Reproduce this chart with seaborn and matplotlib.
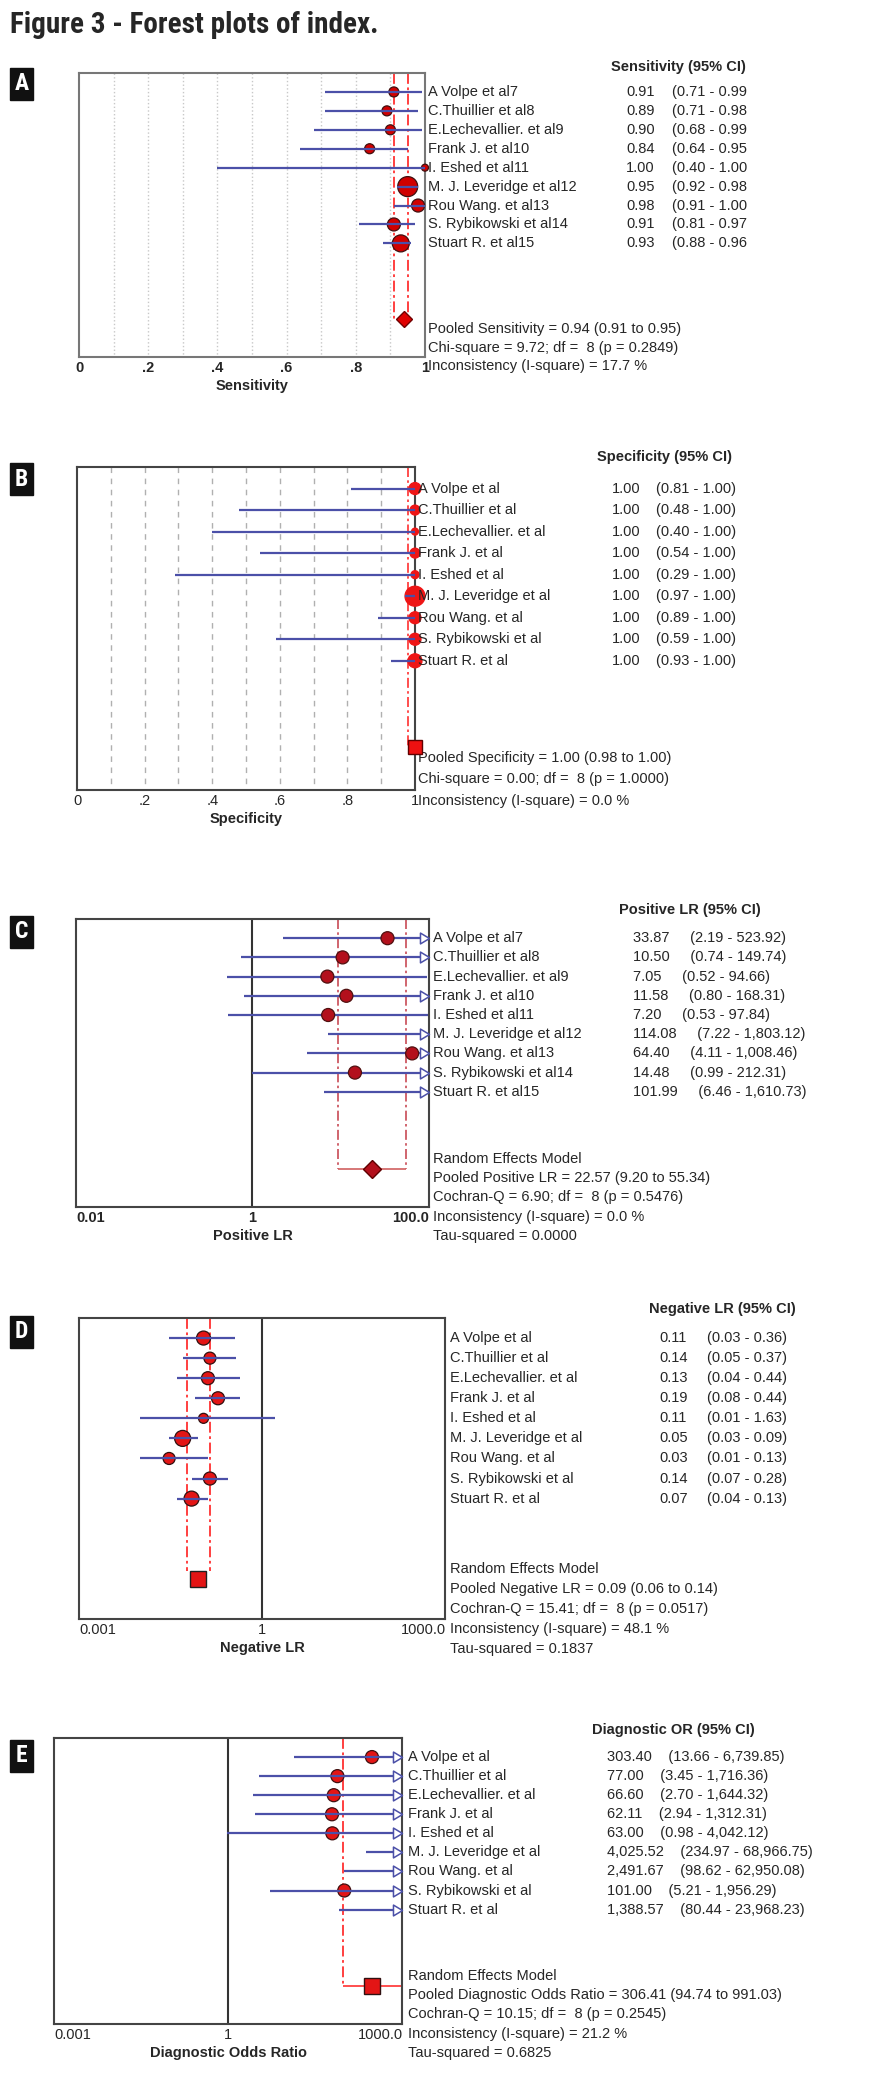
import matplotlib
matplotlib.use("Agg")
import matplotlib.pyplot as plt
import matplotlib.transforms as mtransforms
from matplotlib import font_manager
from matplotlib.patches import Rectangle
from matplotlib.path import Path
import numpy as np
import pandas as pd
import seaborn as sns

# study data
studies = ["A Volpe et al", "C.Thuillier et al", "E.Lechevallier. et al", "Frank J. et al",
           "I. Eshed et al", "M. J. Leveridge et al", "Rou Wang. et al", "S. Rybikowski et al",
           "Stuart R. et al"]
refs = ["7", "8", "9", "10", "11", "12", "13", "14", "15"]

sens = [0.91, 0.89, 0.90, 0.84, 1.00, 0.95, 0.98, 0.91, 0.93]
sens_lo = [0.71, 0.71, 0.68, 0.64, 0.40, 0.92, 0.91, 0.81, 0.88]
sens_hi = [0.99, 0.98, 0.99, 0.95, 1.00, 0.98, 1.00, 0.97, 0.96]
sens_weight = [10, 10, 10, 10, 7, 20, 13, 13, 17]
sens_pooled = (0.94, 0.91, 0.95)

spec = [1.00, 1.00, 1.00, 1.00, 1.00, 1.00, 1.00, 1.00, 1.00]
spec_lo = [0.81, 0.48, 0.40, 0.54, 0.29, 0.97, 0.89, 0.59, 0.93]
spec_hi = [1.00, 1.00, 1.00, 1.00, 1.00, 1.00, 1.00, 1.00, 1.00]
spec_weight = [12, 10, 7, 10, 8, 20, 12, 12, 14]
spec_pooled = (1.00, 0.98, 1.00)

plr = [33.87, 10.50, 7.05, 11.58, 7.20, 114.08, 64.40, 14.48, 101.99]
plr_lo = [2.19, 0.74, 0.52, 0.80, 0.53, 7.22, 4.11, 0.99, 6.46]
plr_hi = [523.92, 149.74, 94.66, 168.31, 97.84, 1803.12, 1008.46, 212.31, 1610.73]
plr_weight = [13, 13, 13, 13, 13, 13, 13, 13, 13]
plr_pooled = (22.57, 9.20, 55.34)

nlr = [0.11, 0.14, 0.13, 0.19, 0.11, 0.05, 0.03, 0.14, 0.07]
nlr_lo = [0.03, 0.05, 0.04, 0.08, 0.01, 0.03, 0.01, 0.07, 0.04]
nlr_hi = [0.36, 0.37, 0.44, 0.44, 1.63, 0.09, 0.13, 0.28, 0.13]
nlr_weight = [14, 12, 13, 13, 10, 16, 12, 13, 15]
nlr_pooled = (0.09, 0.06, 0.14)

dor = [303.40, 77.00, 66.60, 62.11, 63.00, 4025.52, 2491.67, 101.00, 1388.57]
dor_lo = [13.66, 3.45, 2.70, 2.94, 0.98, 234.97, 98.62, 5.21, 80.44]
dor_hi = [6739.85, 1716.36, 1644.32, 1312.31, 4042.12, 68966.75, 62950.08, 1956.29, 23968.23]
dor_weight = [13, 13, 13, 13, 13, 13, 13, 13, 13]
dor_pooled = (306.41, 94.74, 991.03)

summary_a = ["Pooled Sensitivity = 0.94 (0.91 to 0.95)",
             "Chi-square = 9.72; df =  8 (p = 0.2849)",
             "Inconsistency (I-square) = 17.7 %"]
summary_b = ["Pooled Specificity = 1.00 (0.98 to 1.00)",
             "Chi-square = 0.00; df =  8 (p = 1.0000)",
             "Inconsistency (I-square) = 0.0 %"]
summary_c = ["Random Effects Model",
             "Pooled Positive LR = 22.57 (9.20 to 55.34)",
             "Cochran-Q = 6.90; df =  8 (p = 0.5476)",
             "Inconsistency (I-square) = 0.0 %",
             "Tau-squared = 0.0000"]
summary_d = ["Random Effects Model",
             "Pooled Negative LR = 0.09 (0.06 to 0.14)",
             "Cochran-Q = 15.41; df =  8 (p = 0.0517)",
             "Inconsistency (I-square) = 48.1 %",
             "Tau-squared = 0.1837"]
summary_e = ["Random Effects Model",
             "Pooled Diagnostic Odds Ratio = 306.41 (94.74 to 991.03)",
             "Cochran-Q = 10.15; df =  8 (p = 0.2545)",
             "Inconsistency (I-square) = 21.2 %",
             "Tau-squared = 0.6825"]

sns.set_theme(style="white")
plt.rcParams["font.family"] = ["Liberation Sans", "DejaVu Sans"]

# a narrow bold face for the title and panel letters, if one is installed
installed = {f.name for f in font_manager.fontManager.ttflist}
narrow = None
for cand in ["Liberation Sans Narrow", "Roboto Condensed", "Open Sans Condensed"]:
    if cand in installed:
        narrow = cand
        break

W, H = 870, 2080
fig = plt.figure(figsize=(W / 100, H / 100), dpi=100)
fig.patch.set_facecolor("white")

BLUE = "#4b50a8"
rows = np.arange(len(studies))
POOLED_ROW = 12
FS = 10.5

# open arrow head with its tip at the anchor point
arrow = Path([(-1.0, 0.6), (0.0, 0.0), (-1.0, -0.6), (-1.0, 0.6)],
             [Path.MOVETO, Path.LINETO, Path.LINETO, Path.CLOSEPOLY])


def make_axes(l, t, r, b):
    ax = fig.add_axes([l / W, 1 - b / H, (r - l) / W, (b - t) / H])
    ax.set_ylim(14, -1)
    ax.set_yticks([])
    ax.tick_params(axis="x", length=0, pad=3, labelsize=FS)
    for s in ax.spines.values():
        s.set_color("#444444")
        s.set_linewidth(1.5)
    return ax


def panel_letter(letter, ycenter):
    fig.patches.append(Rectangle((10 / W, 1 - (ycenter + 16) / H), 23 / W, 32 / H,
                                 transform=fig.transFigure, color="#111111"))
    kw = dict(family=narrow, fontsize=17) if narrow else dict(fontsize=14, fontstretch="condensed")
    fig.text(21.5 / W, 1 - ycenter / H, letter, color="white",
             fontweight="bold", ha="center", va="center", **kw)


def txt(ax, xpx, y, s, **kw):
    tr = mtransforms.blended_transform_factory(fig.transFigure, ax.transData)
    ax.text(xpx / W, y, s, transform=tr, va="center", fontsize=FS, **kw)


def studies_draw(ax, est, lo, hi, weight, xmax, face, edge, lines_on_top=True):
    df = pd.DataFrame({"est": est, "lo": lo, "hi": hi, "row": rows, "w": weight})
    ax.hlines(df["row"], df["lo"], np.minimum(df["hi"], xmax), color=BLUE, lw=1.6,
              zorder=4 if lines_on_top else 2)
    vis = df[df["est"] <= xmax]
    sns.scatterplot(data=vis, x="est", y="row", s=(vis["w"] / 1.389) ** 2, color=face,
                    edgecolor=edge, linewidth=0.9, ax=ax, legend=False, zorder=3,
                    clip_on=False)
    out = df[df["hi"] > xmax]
    ax.plot(np.full(len(out), xmax), out["row"], linestyle="none", marker=arrow,
            markersize=13, markerfacecolor="white", markeredgecolor=BLUE,
            markeredgewidth=1.1, zorder=5, clip_on=False)
    ax.set_xlabel("")
    ax.set_ylabel("")


def log_ticks(ax, lo, hi, labels, right_shift=0):
    ax.set_xscale("log")
    ax.set_xlim(lo, hi)
    ax.set_xticks([lo, 1, hi])
    ax.set_xticklabels(labels)
    ax.minorticks_off()
    tl = ax.get_xticklabels()
    tl[0].set_ha("left")
    tl[-1].set_ha("right")
    tl[-1].set_transform(tl[-1].get_transform() +
                         mtransforms.ScaledTranslation(right_shift / 100, 0, fig.dpi_scale_trans))
    ax.axvline(1, color="#333333", lw=1.5, zorder=1)


# ---------------- A: sensitivity
ax = make_axes(79, 73, 425, 357)
ax.set_xlim(0, 1)
ax.set_xticks([0, .2, .4, .6, .8, 1])
ax.set_xticklabels(["0", ".2", ".4", ".6", ".8", "1"], fontweight="bold")
for s in ax.spines.values():
    s.set_color("#777777")
ax.vlines(np.arange(1, 10) / 10, -1, 14, color="#c8c8c8", lw=1, linestyles=":", zorder=0)
ax.vlines(sens_pooled[1:], -1, POOLED_ROW, color="#ff3030", lw=1.3,
          linestyles=[(0, (6, 2, 1.5, 2))], zorder=2)
studies_draw(ax, sens, sens_lo, sens_hi, sens_weight, 1.0, "#d00000", "#401010")
ax.plot([sens_pooled[0]], [POOLED_ROW], marker="D", ms=8, color="#e00000", mec="#700000", zorder=5)
ax.set_xlabel("Sensitivity", fontweight="bold", fontsize=FS, labelpad=3)
panel_letter("A", 84)
txt(ax, 678, -1.3, "Sensitivity (95% CI)", ha="center", fontweight="bold")
for i in rows:
    txt(ax, 428, i, studies[i] + refs[i])
    txt(ax, 655, i, f"{sens[i]:.2f}", ha="right")
    txt(ax, 672, i, f"({sens_lo[i]:.2f} - {sens_hi[i]:.2f}")
for k, line in enumerate(summary_a):
    txt(ax, 428, 12.5 + k, line)

# ---------------- B: specificity
ax = make_axes(77, 467, 415, 790)
ax.set_xlim(0, 1)
ax.set_xticks([0, .2, .4, .6, .8, 1])
ax.set_xticklabels(["0", ".2", ".4", ".6", ".8", "1"])
ax.vlines(np.arange(1, 10) / 10, -1, 14, color="#b0b0b0", lw=1,
          linestyles=[(0, (4, 4))], zorder=0)
ax.vlines([spec_pooled[1]], -1, POOLED_ROW, color="#ff3030", lw=1.2,
          linestyles=[(0, (6, 2, 1.5, 2))], zorder=2)
studies_draw(ax, spec, spec_lo, spec_hi, spec_weight, 1.0, "#ee1515", "#ee1515")
ax.plot([spec_pooled[0]], [POOLED_ROW], marker="s", ms=10, color="#ee1111", mec="#600000",
        zorder=5, clip_on=False)
ax.set_xlabel("Specificity", fontweight="bold", fontsize=FS, labelpad=3)
panel_letter("B", 479)
txt(ax, 665, -1.45, "Specificity (95% CI)", ha="center", fontweight="bold")
for i in rows:
    txt(ax, 418, i, studies[i])
    txt(ax, 641, i, f"{spec[i]:.2f}", ha="right")
    txt(ax, 656, i, f"({spec_lo[i]:.2f} - {spec_hi[i]:.2f})")
for k, line in enumerate(summary_b):
    txt(ax, 418, 12.5 + k, line)

# ---------------- C: positive LR
ax = make_axes(76, 919, 429, 1207)
log_ticks(ax, 0.01, 100, ["0.01", "1", "100.0"], right_shift=0)
for t in ax.get_xticklabels():
    t.set_fontweight("bold")
ax.vlines(plr_pooled[1:], -1, POOLED_ROW, color="#c84a55", lw=1.2,
          linestyles=[(0, (6, 2, 1.5, 2))], zorder=2)
ax.hlines(POOLED_ROW, plr_pooled[1], plr_pooled[2], color="#d06060", lw=1.2, zorder=2)
studies_draw(ax, plr, plr_lo, plr_hi, plr_weight, 100, "#b3101c", "#501010", lines_on_top=False)
ax.plot([plr_pooled[0]], [POOLED_ROW], marker="D", ms=9, color="#b3101c", mec="#600000", zorder=5)
ax.set_xlabel("Positive LR", fontweight="bold", fontsize=FS, labelpad=3)
panel_letter("C", 932)
txt(ax, 690, -1.45, "Positive LR (95% CI)", ha="center", fontweight="bold")
for i in rows:
    txt(ax, 433, i, studies[i] + refs[i])
    txt(ax, 633, i, f"{plr[i]:,.2f}     ({plr_lo[i]:,.2f} - {plr_hi[i]:,.2f})")
for k, line in enumerate(summary_c):
    txt(ax, 433, 11.5 + k, line)

# ---------------- D: negative LR
ax = make_axes(79, 1318, 445, 1619)
log_ticks(ax, 0.001, 1000, ["0.001", "1", "1000.0"], right_shift=1)
ax.vlines(nlr_pooled[1:], -1, POOLED_ROW - 0.4, color="#ff3030", lw=1.3,
          linestyles=[(0, (6, 2, 1.5, 2))], zorder=2)
studies_draw(ax, nlr, nlr_lo, nlr_hi, nlr_weight, 1000, "#e31515", "#301010")
ax.plot([nlr_pooled[0]], [POOLED_ROW], marker="s", ms=12, color="#e31515", mec="#202020", zorder=5)
ax.set_xlabel("Negative LR", fontweight="bold", fontsize=FS, labelpad=3)
panel_letter("D", 1332)
txt(ax, 722, -1.45, "Negative LR (95% CI)", ha="center", fontweight="bold")
for i in rows:
    txt(ax, 450, i, studies[i])
    txt(ax, 659, i, f"{nlr[i]:.2f}")
    txt(ax, 707, i, f"({nlr_lo[i]:.2f} - {nlr_hi[i]:.2f})")
for k, line in enumerate(summary_d):
    txt(ax, 450, 11.5 + k, line)

# ---------------- E: diagnostic OR
ax = make_axes(54, 1738, 402, 2024)
log_ticks(ax, 0.001, 1000, ["0.001", "1", "1000.0"], right_shift=1)
ax.vlines(dor_pooled[1:], -1, POOLED_ROW, color="#ff3030", lw=1.3,
          linestyles=[(0, (6, 2, 1.5, 2)), "solid"], zorder=2)
ax.hlines(POOLED_ROW, dor_pooled[1], dor_pooled[2], color="#ff3030", lw=1.2, zorder=2)
studies_draw(ax, dor, dor_lo, dor_hi, dor_weight, 1000, "#e31515", "#401010")
ax.plot([dor_pooled[0]], [POOLED_ROW], marker="s", ms=11, color="#e31515", mec="#301010", zorder=5)
ax.set_xlabel("Diagnostic Odds Ratio", fontweight="bold", fontsize=FS, labelpad=3)
panel_letter("E", 1756)
txt(ax, 673, -1.4, "Diagnostic OR (95% CI)", ha="center", fontweight="bold")
for i in rows:
    txt(ax, 408, i, studies[i])
    txt(ax, 607, i, f"{dor[i]:,.2f}    ({dor_lo[i]:,.2f} - {dor_hi[i]:,.2f})")
for k, line in enumerate(summary_e):
    txt(ax, 408, 11.5 + k, line)

title_kw = dict(family=narrow, fontsize=21) if narrow else dict(fontsize=17, fontstretch="condensed")
fig.text(10 / W, 1 - 25 / H, "Figure 3 - Forest plots of index.",
         fontweight="bold", ha="left", va="center", **title_kw)

fig.savefig("out.png", dpi=100)
